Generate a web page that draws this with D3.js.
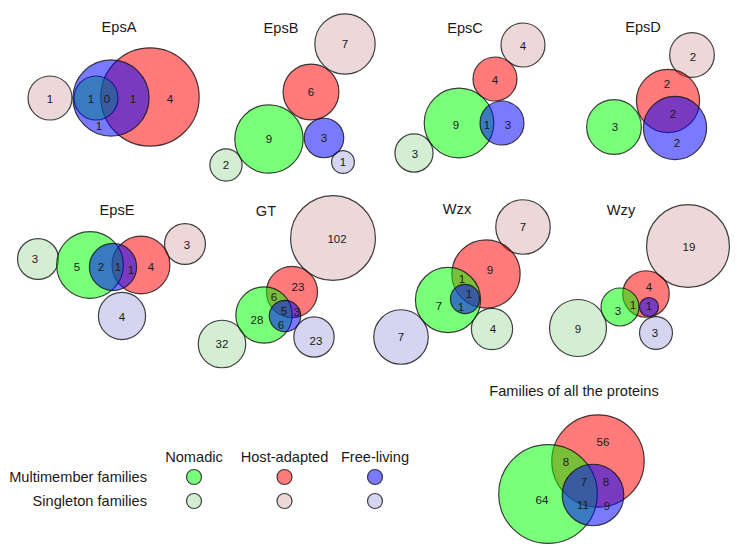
<!DOCTYPE html>
<html>
<head>
<meta charset="utf-8">
<script src="https://cdn.jsdelivr.net/npm/d3@7"></script>
<style>
  html, body { margin: 0; padding: 0; background: #fff; }
  svg { display: block; font-family: "Liberation Sans", Arial, sans-serif; }
</style>
</head>
<body>
<svg id="chart" width="738" height="550"></svg>
<script>
// ---------------- DATA ----------------
const panelNames = ["EpsA", "EpsB", "EpsC", "EpsD", "EpsE", "GT", "Wzx", "Wzy", "Families of all the proteins"];
const groups = ["Nomadic", "Host-adapted", "Free-living"];
const familyTypes = ["Multimember families", "Singleton families"];

// circles: [group, type (M = multimember, S = singleton), number of families]
const epsASets = [["Host-adapted","S",1], ["Free-living","M",3], ["Host-adapted","M",5], ["Nomadic","M",1]];
const epsBSets = [["Host-adapted","S",7], ["Host-adapted","M",6], ["Nomadic","M",9], ["Free-living","M",3], ["Free-living","S",1], ["Nomadic","S",2]];
const epsCSets = [["Host-adapted","S",4], ["Host-adapted","M",4], ["Nomadic","M",10], ["Free-living","M",4], ["Nomadic","S",3]];
const epsDSets = [["Host-adapted","S",2], ["Host-adapted","M",4], ["Free-living","M",4], ["Nomadic","M",3]];
const epsESets = [["Nomadic","S",3], ["Nomadic","M",8], ["Host-adapted","M",6], ["Free-living","M",4], ["Host-adapted","S",3], ["Free-living","S",4]];
const gtSets   = [["Host-adapted","S",102], ["Host-adapted","M",37], ["Nomadic","M",45], ["Free-living","M",14], ["Nomadic","S",32], ["Free-living","S",23]];
const wzxSets  = [["Host-adapted","S",7], ["Host-adapted","M",11], ["Nomadic","M",10], ["Free-living","M",2], ["Nomadic","S",4], ["Free-living","S",7]];
const wzySets  = [["Host-adapted","S",19], ["Host-adapted","M",6], ["Nomadic","M",4], ["Free-living","M",1], ["Free-living","S",3], ["Nomadic","S",9]];
const allSets  = [["Host-adapted","M",79], ["Nomadic","M",90], ["Free-living","M",35]];

// region counts (labels inside the diagrams)
const epsARegions = [1, 1, 0, 1, 4, 1];
const epsBRegions = [7, 6, 9, 3, 1, 2];
const epsCRegions = [4, 4, 9, 1, 3, 3];
const epsDRegions = [2, 2, 2, 2, 3];
const epsERegions = [3, 5, 2, 1, 1, 4, 4, 3];
const gtRegions   = [102, 23, 6, 5, 3, 6, 28, 23, 32];
const wzxRegions  = [7, 9, 1, 1, 1, 7, 4, 7];
const wzyRegions  = [19, 4, 1, 1, 3, 3, 9];
const allRegions  = [56, 8, 7, 8, 64, 11, 9];

// ---------------- LAYOUT (positions / sizes, separate from the values) ----------------
const panelAnchor = [[119,27],[281,28],[465,28],[643,27],[117,210],[266,211],[457,209],[621,210],[574,391]];
const panelUnit = [22, 11.4, 11, 15.8, 11.8, 4.2, 10.3, 9.5, 5.2]; // radius of a 1-family circle
const circleLayout = [
  [[-69,71],[-8,71],[31,70],[-23,71]],
  [[64,16],[30,64],[-12,111],[43,110],[62,134],[-55,137]],
  [[58,17],[30,51],[-6,95],[37,95],[-51,125]],
  [[49,28],[25,74],[32,101],[-29,100]],
  [[-79,49],[-27,55],[24,55],[-4,57],[68,34],[5,106]],
  [[67,27],[26,81],[-2,104],[19,105],[-44,133],[48,126]],
  [[66,18],[29,65],[-9,91],[8,90],[35,120],[-56,128]],
  [[67,36],[25,84],[-1,97],[28,97],[35,123],[-43,118]],
  [[24,70],[-26,103],[19,104]]
];
const labelLayout = [
  [[-69,72],[-28,72],[-12,72],[14,72],[51,72],[-20,99]],
  [[64,16],[30,64],[-12,111],[43,110],[62,134],[-55,137]],
  [[58,18],[30,52],[-9,97],[22,97],[43,97],[-50,126]],
  [[50,30],[24,57],[30,87],[34,116],[-28,100]],
  [[-82,49],[-40,57],[-16,57],[1,57],[14,60],[34,57],[5,107],[70,35]],
  [[71,28],[32,76],[8,86],[18,100],[31,101],[15,114],[-9,109],[50,130],[-44,133]],
  [[66,18],[33,61],[5,70],[12,85],[4,98],[-18,97],[36,120],[-56,128]],
  [[68,37],[28,77],[12,95],[28,96],[-3,101],[34,123],[-43,119]],
  [[29,51],[-8,71],[10,91],[32,91],[-32,109],[9,114],[33,115]]
];

const panelSets = [epsASets, epsBSets, epsCSets, epsDSets, epsESets, gtSets, wzxSets, wzySets, allSets];
const panelRegions = [epsARegions, epsBRegions, epsCRegions, epsDRegions, epsERegions, gtRegions, wzxRegions, wzyRegions, allRegions];

// ---------------- STYLE ----------------
const multiColor = d3.scaleOrdinal().domain(groups).range(["#00ff00", "#ff0000", "#0000ff"]);
const singleColor = d3.scaleOrdinal().domain(groups).range(["#d3eed3", "#ecd8d8", "#d5d5f1"]);
const drawOrder = { "Host-adapted": 1, "Nomadic": 2, "Free-living": 3 };
const multiOpacity = 0.52;
const headFont = 14.6;

const svg = d3.select("#chart");

panelNames.forEach((name, p) => {
  const [ax, ay] = panelAnchor[p];
  const x = d3.scaleLinear().domain([0, 1]).range([ax, ax + 1]);
  const y = d3.scaleLinear().domain([0, 1]).range([ay, ay + 1]);
  const r = d3.scaleSqrt().domain([0, 1]).range([0, panelUnit[p]]);

  const g = svg.append("g").attr("class", "panel");

  g.append("text")
    .attr("x", x(0)).attr("y", y(0))
    .attr("text-anchor", "middle")
    .attr("dominant-baseline", "central")
    .attr("font-size", headFont)
    .attr("fill", "#1a1a1a")
    .text(name);

  const circles = panelSets[p].map((s, i) => ({
    group: s[0], type: s[1], n: s[2], dx: circleLayout[p][i][0], dy: circleLayout[p][i][1]
  }));
  circles.sort((a, b) => (a.type === "S" ? 0 : drawOrder[a.group]) - (b.type === "S" ? 0 : drawOrder[b.group]));

  g.selectAll("circle.set").data(circles).join("circle")
    .attr("class", "set")
    .attr("cx", d => x(d.dx))
    .attr("cy", d => y(d.dy))
    .attr("r", d => r(d.n))
    .attr("fill", d => d.type === "S" ? singleColor(d.group) : multiColor(d.group))
    .attr("fill-opacity", d => d.type === "S" ? 1 : multiOpacity)
    .attr("stroke", "#111")
    .attr("stroke-opacity", 0.8)
    .attr("stroke-width", 1.2);

  const labels = panelRegions[p].map((v, i) => ({ v, dx: labelLayout[p][i][0], dy: labelLayout[p][i][1] }));
  g.selectAll("text.count").data(labels).join("text")
    .attr("class", "count")
    .attr("x", d => x(d.dx))
    .attr("y", d => y(d.dy))
    .attr("text-anchor", "middle")
    .attr("dominant-baseline", "central")
    .attr("font-size", 11.5)
    .attr("fill", "#1a1a1a")
    .text(d => d.v);
});

// ---------------- LEGEND ----------------
const legendX = d3.scalePoint().domain(groups).range([194, 375]);
const legendY = d3.scalePoint().domain(familyTypes).range([477, 501]);
const legend = svg.append("g").attr("class", "legend");

legend.selectAll("text.col").data(groups).join("text")
  .attr("class", "col")
  .attr("x", d => legendX(d)).attr("y", 457)
  .attr("text-anchor", "middle").attr("dominant-baseline", "central")
  .attr("font-size", headFont).attr("fill", "#1a1a1a")
  .text(d => d);

legend.selectAll("text.row").data(familyTypes).join("text")
  .attr("class", "row")
  .attr("x", 147).attr("y", d => legendY(d))
  .attr("text-anchor", "end").attr("dominant-baseline", "central")
  .attr("font-size", headFont).attr("fill", "#1a1a1a")
  .text(d => d);

const legendCells = [];
familyTypes.forEach((t, ti) => groups.forEach(gname => legendCells.push({ t, ti, g: gname })));
legend.selectAll("circle").data(legendCells).join("circle")
  .attr("cx", d => legendX(d.g))
  .attr("cy", d => legendY(d.t))
  .attr("r", 7.5)
  .attr("fill", d => d.ti === 0 ? multiColor(d.g) : singleColor(d.g))
  .attr("fill-opacity", d => d.ti === 0 ? multiOpacity : 1)
  .attr("stroke", "#111").attr("stroke-opacity", 0.8).attr("stroke-width", 1.2);
</script>
</body>
</html>
